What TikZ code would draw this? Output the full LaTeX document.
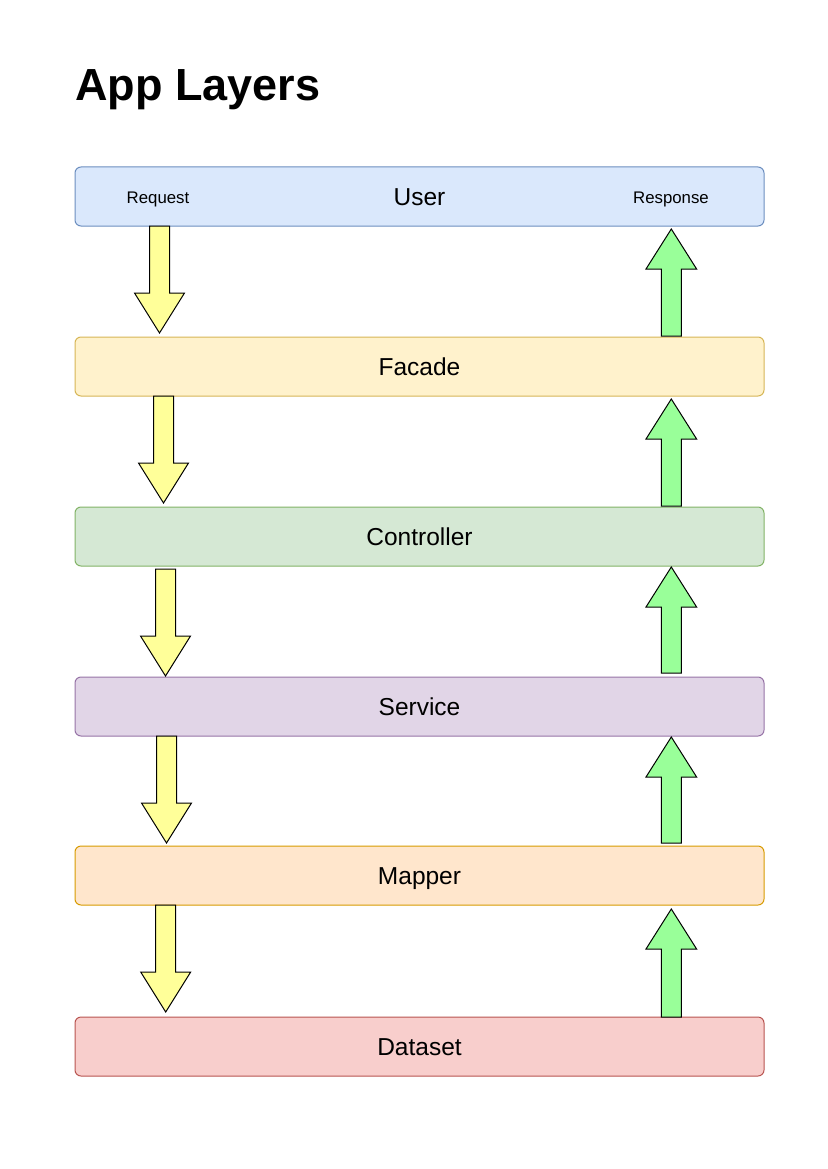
\documentclass[tikz,border=0pt]{standalone}
\usepackage{fontspec}
\setmainfont{Liberation Sans}
\definecolor{bluef}{HTML}{DAE8FC}\definecolor{blued}{HTML}{6C8EBF}
\definecolor{yelf}{HTML}{FFF2CC}\definecolor{yeld}{HTML}{D6B656}
\definecolor{grnf}{HTML}{D5E8D4}\definecolor{grnd}{HTML}{82B366}
\definecolor{purf}{HTML}{E1D5E7}\definecolor{purd}{HTML}{9673A6}
\definecolor{orgf}{HTML}{FFE6CC}\definecolor{orgd}{HTML}{D79B00}
\definecolor{redf}{HTML}{F8CECC}\definecolor{redd}{HTML}{B85450}
\definecolor{reqarrow}{HTML}{FFFF99}
\definecolor{resarrow}{HTML}{99FF99}
\tikzset{
  layer/.style={draw=#1d, fill=#1f, rounded corners=6pt, line width=1pt,
    minimum width=689pt, minimum height=59pt, inner sep=0pt,
    text height=17.5pt, text depth=0pt,
    font=\fontsize{24.5}{28}\selectfont, text=black},
  small/.style={font=\fontsize{16.8}{20}\selectfont, text=black,
    inner sep=0pt, text height=12pt, text depth=0pt},
  downarr/.style={draw=black, fill=reqarrow, line width=1pt, line join=miter},
  uparr/.style={draw=black, fill=resarrow, line width=1pt, line join=miter},
}
\begin{document}
\begin{tikzpicture}[x=1pt,y=-1pt]
\useasboundingbox (0,0) rectangle (827,1169);
\node[anchor=base west, font=\fontsize{45}{50}\selectfont\bfseries, inner sep=0pt] (title) at (75,100.5) {App Layers};

\node[layer=blue] (user) at (419.5,196.5) {User};
\node[layer=yel] (facade) at (419.5,366.5) {Facade};
\node[layer=grn] (controller) at (419.5,536.5) {Controller};
\node[layer=pur] (service) at (419.5,706.5) {Service};
\node[layer=org] (mapper) at (419.5,875.5) {Mapper};
\node[layer=red] (dataset) at (419.5,1046.5) {Dataset};

\node[small] (req) at (158,197.5) {Request};
\node[small] (res) at (671,197.5) {Response};

% down arrows: centre x, top y, head base y, tip y
\foreach \cx/\ty/\hy/\tipy in {159.5/226/293/333, 163.5/396/463/503, 165.5/569/636/676, 166.5/736/803/843, 165.7/905/972/1012}{
  \draw[downarr] (\cx-10,\ty) -- (\cx-10,\hy) -- (\cx-25,\hy) -- (\cx,\tipy) -- (\cx+25,\hy) -- (\cx+10,\hy) -- (\cx+10,\ty) -- cycle;
}
% up arrows
\foreach \by/\hy/\tipy in {336/269/229, 506/439/399, 673/607/567, 843/777/737, 1017/949/909}{
  \draw[uparr] (661.3,\by) -- (661.3,\hy) -- (646,\hy) -- (671.3,\tipy) -- (696.6,\hy) -- (681.3,\hy) -- (681.3,\by) -- cycle;
}
\end{tikzpicture}
\end{document}
